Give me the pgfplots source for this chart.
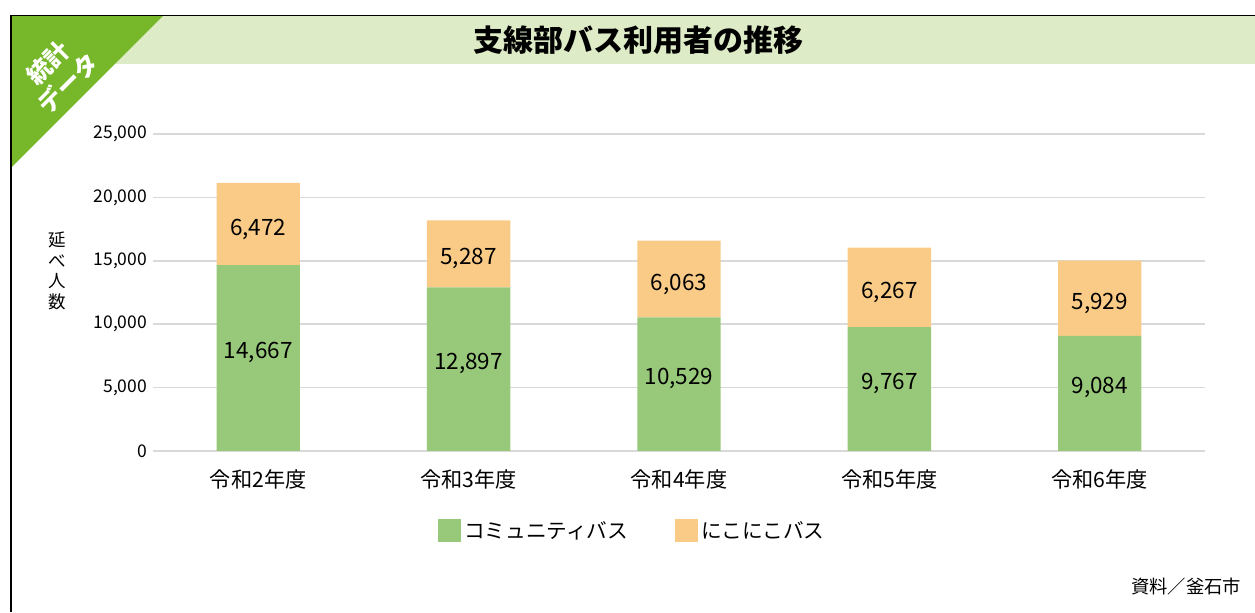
\documentclass[border=0pt]{standalone}
\usepackage{pgfplots}
\pgfplotsset{compat=1.18}
\usepackage{fontspec}
\setmainfont{Noto Sans CJK JP}
\definecolor{cgreen}{HTML}{98C97A}
\definecolor{corange}{HTML}{F9CB87}
\definecolor{tgreen}{HTML}{76B82A}
\definecolor{tbar}{HTML}{DDEBC6}
\definecolor{gridc}{HTML}{D9D9D9}
\pgfplotsset{sqlegend/.style={legend image code/.code={\fill[##1] (0pt,-6.9pt) rectangle (13.8pt,6.9pt);}}}
\begin{document}
\begin{tikzpicture}
\begin{scope}[x=0.6pt,y=0.6pt]
\useasboundingbox (0,0) rectangle (1255,612);
\fill[tbar] (11,548) rectangle (1255,596);
\fill[tgreen] (11,596) -- (163,596) -- (11,444) -- cycle;
\draw[line width=1pt] (1255,596.5) -- (11,596.5) -- (11,0);
\node[text=white, font=\bfseries\fontsize{14.5}{17}\selectfont, rotate=45, align=center, inner sep=0pt] at (58,539) {統計\\データ};
\node[font=\bfseries\fontsize{18}{22}\selectfont] at (638,572) {支線部バス利用者の推移};
\node[font=\fontsize{10.5}{12.5}\selectfont, align=center] at (57,341) {延\\べ\\人\\数};
\node[font=\fontsize{11}{13}\selectfont, anchor=east] at (1247,25) {資料／釜石市};
\end{scope}
\begin{axis}[
  at={(91.8pt,96.6pt)}, anchor=south west, scale only axis,
  width=631.2pt, height=190.2pt,
  xmin=-0.5, xmax=4.5, ymin=0, ymax=25000,
  ybar stacked, bar width=50pt,
  axis line style={draw=none},
  major tick length=0pt,
  ymajorgrids, grid style={gridc, line width=1pt},
  ytick={0,5000,...,25000},
  xtick={0,...,4},
  xticklabels={令和2年度,令和3年度,令和4年度,令和5年度,令和6年度},
  scaled y ticks=false,
  /pgf/number format/1000 sep={,},
  /pgf/number format/assume math mode=true,
  yticklabel style={font=\fontsize{10.5}{12}\selectfont},
  xticklabel style={font=\fontsize{12.7}{14}\selectfont, yshift=-7.5pt},
  legend style={at={(0.456,-0.252)}, anchor=center, draw=none, fill=none,
    legend columns=2, font=\fontsize{12.4}{14}\selectfont,
    /tikz/every even column/.append style={column sep=26pt}},
]
\addplot[fill=cgreen, draw=none, sqlegend]
  coordinates {(0,14667) (1,12897) (2,10529) (3,9767) (4,9084)};
\addplot[fill=corange, draw=none, sqlegend]
  coordinates {(0,6472) (1,5287) (2,6063) (3,6267) (4,5929)};
\legend{コミュニティバス,にこにこバス}
\end{axis}
\begin{axis}[
  at={(91.8pt,96.6pt)}, anchor=south west, scale only axis,
  width=631.2pt, height=190.2pt,
  xmin=-0.5, xmax=4.5, ymin=0, ymax=25000,
  hide axis,
  nodes near coords, point meta=explicit symbolic,
  nodes near coords align={center},
  every node near coord/.append style={anchor=center, font=\fontsize{13.5}{16}\selectfont},
]
\addplot[draw=none, every node near coord/.append style={yshift=3.5pt}] coordinates {(0,7333.5) [14,667] (1,6448.5) [12,897] (2,5264.5) [10,529] (3,4883.5) [9,767] (4,4542) [9,084]};
\addplot[draw=none, every node near coord/.append style={yshift=-3pt}] coordinates {(0,17903) [6,472] (1,15540.5) [5,287] (2,13560.5) [6,063] (3,12900.5) [6,267] (4,12048.5) [5,929]};
\end{axis}
\end{tikzpicture}
\end{document}
